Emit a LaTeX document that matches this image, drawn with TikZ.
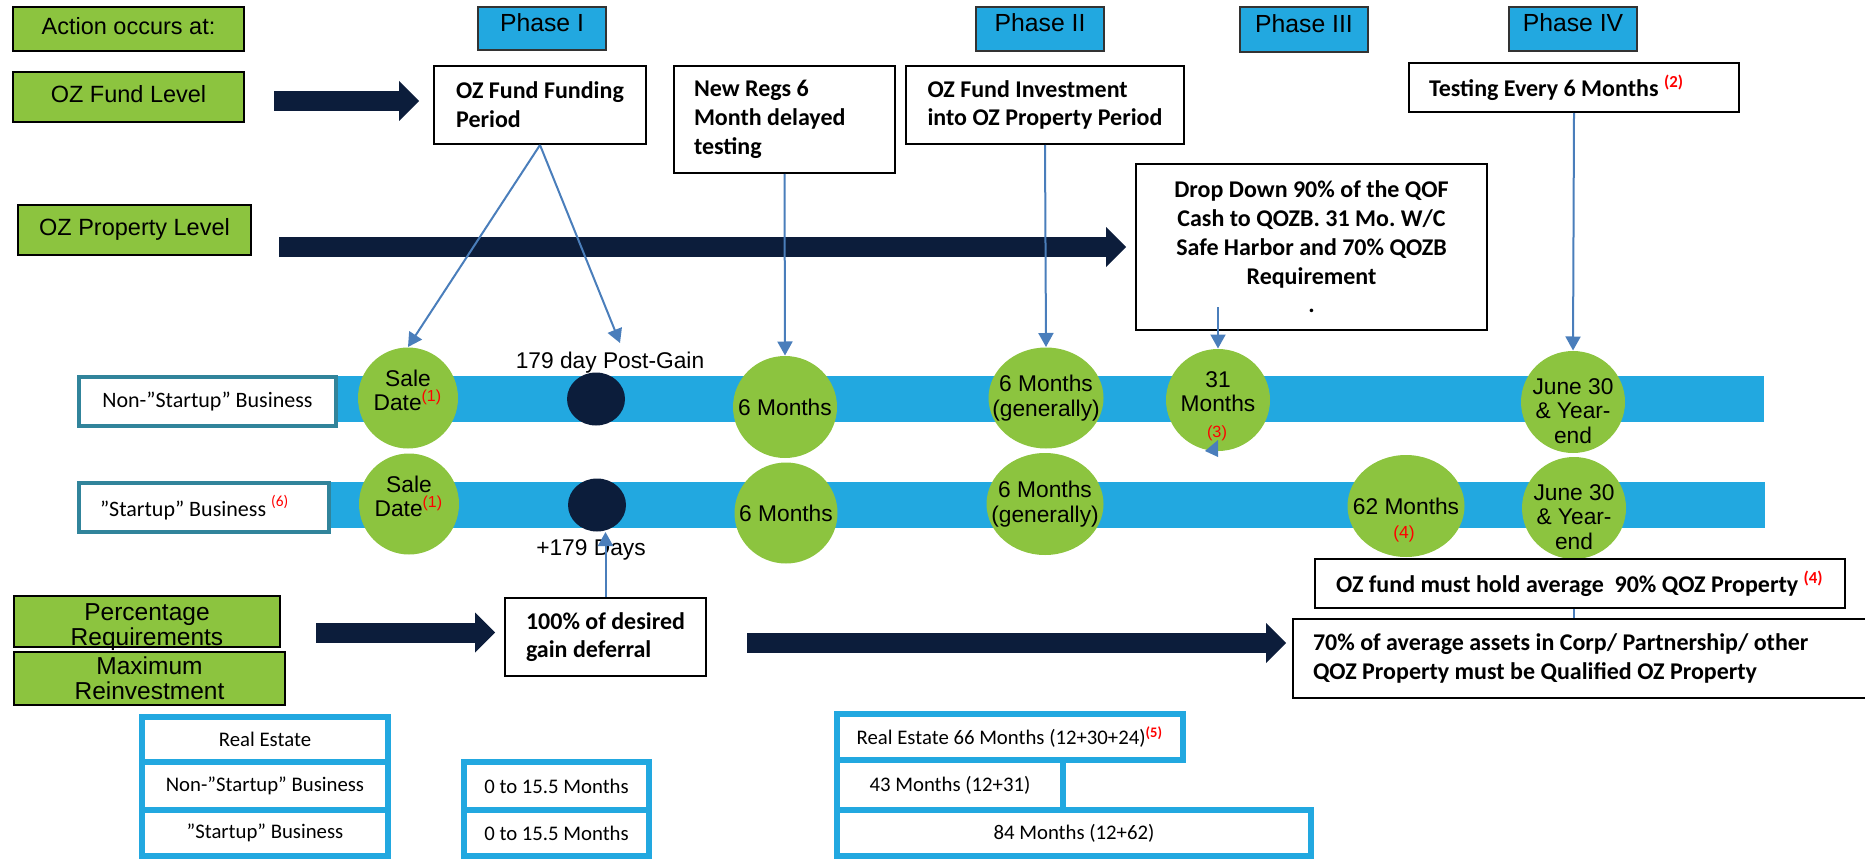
\documentclass[tikz,border=0pt]{standalone}
\usepackage{fontspec}
\setmainfont{Liberation Sans}
\newfontfamily\calfont{Carlito}
\usetikzlibrary{shapes.geometric,arrows.meta}
\definecolor{ozgreen}{HTML}{8CC43F}
\definecolor{ozblue}{HTML}{22A8E0}
\definecolor{oznavy}{HTML}{0C1D3B}
\definecolor{ozline}{HTML}{4A7EBB}
\definecolor{ozteal}{HTML}{31849B}
\definecolor{ozred}{HTML}{FF0000}
\newcommand\pxu{0.4pt}
\newcommand\fnote[1]{\textsuperscript{\textcolor{ozred}{#1}}}
\frenchspacing
\begin{document}
\begin{tikzpicture}[x=0.4pt,y=-0.4pt,
  sz/.style 2 args={minimum width=#1*\pxu,minimum height=#2*\pxu},
  greenbox/.style={draw=black,line width=0.9pt,fill=ozgreen,inner sep=0pt,align=center,font=\fontsize{9.4}{10}\selectfont},
  greenone/.style={greenbox,text depth=2.8pt},
  gtext/.style={inner sep=0pt,align=center,font=\fontsize{9.8}{10}\selectfont},
  phasebox/.style={draw=black!80,line width=0.8pt,fill=ozblue,inner sep=0pt,text depth=5pt,font=\fontsize{9.9}{11}\selectfont},
  txtbox/.style={draw=black,line width=0.8pt,fill=white,inner sep=0pt,font=\calfont\bfseries\fontsize{9.6}{11.5}\selectfont},
  lanebox/.style={draw=ozteal,line width=1.4pt,fill=white,inner sep=0pt,font=\calfont\fontsize{8.8}{10}\selectfont},
  tblbox/.style={draw=ozblue,line width=2.4pt,fill=white,inner sep=0pt,font=\calfont\fontsize{8.3}{10}\selectfont},
  milestone/.style={ellipse,fill=ozgreen,inner sep=0pt},
  mtext/.style={inner sep=0pt,align=center,font=\fontsize{9.1}{9.7}\selectfont},
  navydot/.style={ellipse,fill=oznavy,inner sep=0pt,minimum width=58*\pxu,minimum height=53*\pxu},
  freetext/.style={inner sep=0pt,font=\fontsize{9.1}{10}\selectfont},
  fnred/.style={inner sep=0pt,text=ozred,font=\fontsize{6.5}{7}\selectfont},
  bandbar/.style={fill=ozblue},
  bigarrow/.style={draw=oznavy,line width=8pt,-{Triangle[length=8pt,width=16pt,line width=0pt]}},
  conn/.style={draw=ozline,line width=0.8pt,-{Triangle[length=5.6pt,width=6pt]}},
  thinconn/.style={draw=ozline,line width=0.5pt}
]
\useasboundingbox (0,0) rectangle (1865,859);

% timeline bands
\fill[bandbar] (78,376) rectangle (1764,422);
\fill[bandbar] (78,482) rectangle (1765,528);

% header row
\node[greenone,sz={231}{44}] (action) at (128.5,29) {Action occurs at:};
\node[phasebox,sz={128}{43}] (ph1) at (542,28.5) {Phase I};
\node[phasebox,sz={128}{44}] (ph2) at (1040,29) {Phase II};
\node[phasebox,sz={128}{45}] (ph3) at (1304,29.5) {Phase III};
\node[phasebox,sz={128}{44}] (ph4) at (1573,29) {Phase IV};

% levels
\node[greenone,sz={231}{50}] (fundlvl) at (128.5,97) {OZ Fund Level};
\node[greenone,sz={233}{50}] (proplvl) at (134.5,230) {OZ Property Level};

% text boxes
\node[txtbox,align=flush left,sz={212}{78}] (funding) at (540,105) {OZ Fund Funding\\Period};
\node[txtbox,align=flush left,text width=181*\pxu,sz={221}{107}] (newregs) at (784.5,119.5) {New Regs 6\\Month delayed\\testing};
\node[txtbox,align=flush left,sz={278}{78}] (invest) at (1045,105) {OZ Fund Investment\\into OZ Property Period};
\node[txtbox,align=flush left,text width=290*\pxu,sz={330}{49}] (testing) at (1574,87.5) {Testing Every 6 Months \fnote{(2)}};
\node[txtbox,align=center,sz={351}{166}] (dropdown) at (1311.5,247) {Drop Down 90\% of the QOF\\Cash to QOZB. 31 Mo. W/C\\Safe Harbor and 70\% QOZB\\Requirement\\.};

% lane labels
\node[lanebox,sz={257}{49}] (nonlane) at (207.5,401.5) {Non-”Startup” Business};
\node[lanebox,align=flush left,text width=208*\pxu,sz={250}{49}] (startlane) at (204,507.5) {”Startup” Business \fnote{(6)}};

% milestones lane 1
\node[milestone,sz={100}{101},label={[mtext,yshift=3pt]center:Sale\\Date\fnote{(1)}}] (sale1) at (408,398) {};
\node[navydot] (dot1) at (596,399) {};
\node[milestone,sz={104}{102},label={[mtext]center:6 Months}] (six1) at (785,407) {};
\node[milestone,sz={115}{101},label={[mtext]center:6 Months\\(generally)}] (gen1) at (1046,398) {};
\node[milestone,sz={104}{102},label={[mtext,yshift=3.4pt]center:31\\Months}] (m31) at (1218,400) {};
\node[milestone,sz={104}{102},label={[mtext,yshift=-3.6pt]center:June 30\\\& Year-\\end}] (june1) at (1573,402) {};

% milestones lane 2
\node[milestone,sz={100}{101},label={[mtext,yshift=3pt]center:Sale\\Date\fnote{(1)}}] (sale2) at (409,504) {};
\node[navydot] (dot2) at (597,505) {};
\node[milestone,sz={103}{101},label={[mtext]center:6 Months}] (six2) at (786,513) {};
\node[milestone,sz={117}{102},label={[mtext]center:6 Months\\(generally)}] (gen2) at (1045,504) {};
\node[milestone,sz={117}{102},label={[mtext]center:62 Months}] (m62) at (1406,506) {};
\node[milestone,sz={104}{102},label={[mtext,yshift=-3.6pt]center:June 30\\\& Year-\\end}] (june2) at (1574,508) {};

\node[fnred] (fn3) at (1217,433) {(3)};
\node[fnred,font=\fontsize{7}{8}\selectfont] (fn4) at (1404,534) {(4)};

\node[freetext] (postgain) at (610,363) {179 day Post-Gain};
\node[freetext] (plusdays) at (591,550) {+179 Days};

% requirements
\node[greenbox,sz={266}{51},label={[gtext,yshift=-2.4pt]center:Percentage\\Requirements}] (pct) at (147,621.5) {};
\node[greenbox,font=\fontsize{9.8}{10}\selectfont,sz={271}{53}] (maxre) at (149.5,678.5) {Maximum\\Reinvestment};
\node[txtbox,align=flush left,sz={201}{78}] (box100) at (605.5,637) {100\% of desired\\gain deferral};
\node[txtbox,align=flush left,sz={530}{49}] (hold) at (1580,583.5) {OZ fund must hold average\ \ 90\% QOZ Property \fnote{(4)}};
\node[txtbox,align=flush left,text width=547*\pxu,sz={587}{79}] (box70) at (1586.5,658.5) {70\% of average assets in Corp/ Partnership/ other\\QOZ Property must be Qualified OZ Property};

% reinvestment table
\node[tblbox,sz={246}{45}] (tre) at (265,739.5) {Real Estate};
\node[tblbox,sz={246}{48}] (tns) at (265,786) {Non-”Startup” Business};
\node[tblbox,sz={246}{46}] (tst) at (265,833) {”Startup” Business};
\node[tblbox,sz={185}{48}] (tm1) at (556.5,786) {0 to 15.5 Months};
\node[tblbox,sz={185}{46}] (tm2) at (556.5,833) {0 to 15.5 Months};
\node[tblbox,sz={346}{46}] (tre66) at (1010,737) {Real Estate 66 Months (12+30+24)\fnote{\bfseries(5)}};
\node[tblbox,sz={226}{50}] (t43) at (950,785) {43 Months (12+31)};
\node[tblbox,sz={474}{46}] (t84) at (1074,833) {84 Months (12+62)};

% big navy arrows
\draw[bigarrow] ([shift={(29,4)}]fundlvl.east) -- ([shift={(-14,4)}]fundlvl.east -| funding.west);
\draw[bigarrow] ([shift={(27,17)}]proplvl.east) -- ([shift={(-9,17)}]proplvl.east -| dropdown.west);
\draw[bigarrow] ([shift={(35,11)}]pct.east) -- ([shift={(-9,11)}]pct.east -| box100.west);
\draw[bigarrow] ([shift={(40,6)}]box100.east) -- ([shift={(-6,6)}]box100.east -| box70.west);

% blue connectors
\coordinate (gainpt) at (620,343);
\coordinate (ddstart) at (1218,307);
\draw[conn] (funding.south) -- (sale1.north);
\draw[conn] (funding.south) -- (gainpt);
\draw[conn] (newregs.south) -- (six1.north);
\draw[conn] (invest.south) -- (gen1.north);
\draw[conn] (ddstart) -- (m31.north);
\draw[conn] (testing.south) -- (june1.north);
\draw[conn] (box100.north) -- (box100.north |- dot2.south);
\draw[thinconn] (june2.center |- hold.south) -- (june2.center |- box70.north);
\fill[ozline] (1218,440) -- (1218,457) -- (1205,451) -- cycle;
\end{tikzpicture}
\end{document}
